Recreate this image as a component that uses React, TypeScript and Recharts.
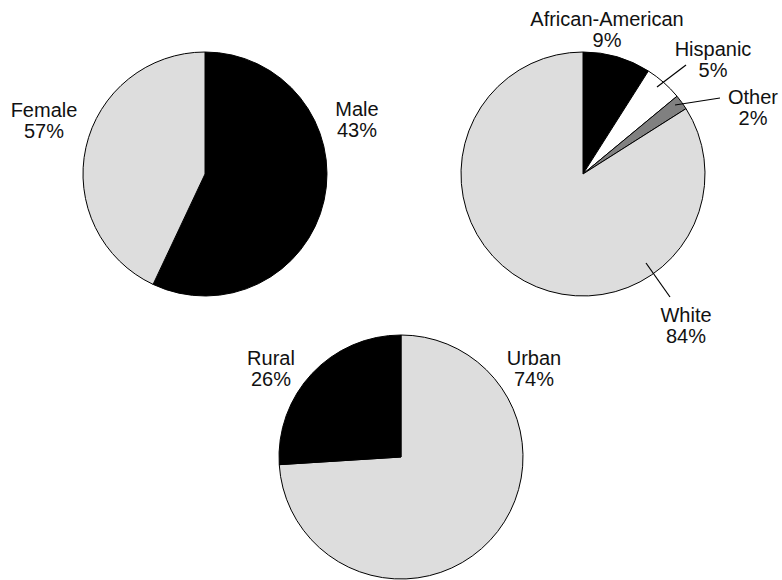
import * as React from "react";
import { PieChart, Pie, Cell } from "recharts";

// Sex split
const sexNames = ["Female", "Male"];
const sexValues = [57, 43];

// Race / ethnicity split
const raceNames = ["African-American", "Hispanic", "Other", "White"];
const raceValues = [9, 5, 2, 84];

// Residence split
const areaNames = ["Urban", "Rural"];
const areaValues = [74, 26];

const LIGHT = "#dddddd";
const FONT = "'Liberation Sans', Arial, Helvetica, sans-serif";
const RADIUS = 122;

type LabelSpot = { dx: number; dy: number; line?: [number, number, number, number] };

// label placement relative to each pie's centre (text centre x, first baseline y)
const sexSpots: LabelSpot[] = [
  { dx: -161, dy: -57 },
  { dx: 152, dy: -58 },
];
const raceSpots: LabelSpot[] = [
  { dx: 24, dy: -148 },
  { dx: 130, dy: -118, line: [74, -87, 103, -109] },
  { dx: 170, dy: -70, line: [92, -69, 137, -76] },
  { dx: 103, dy: 148, line: [63, 89, 87, 123] },
];
const areaSpots: LabelSpot[] = [
  { dx: 133, dy: -92 },
  { dx: -130, dy: -92 },
];

const toRows = (names: string[], values: number[]) =>
  names.map((name, i) => ({ name, value: values[i] }));

function makeLabel(cx: number, cy: number, names: string[], values: number[], spots: LabelSpot[]) {
  return (props: any) => {
    const i = props.index;
    const s = spots[i];
    if (!s) return null;
    const x = cx + s.dx;
    const y = cy + s.dy;
    return (
      <g key={`lbl-${names[i]}`}>
        {s.line && (
          <line
            x1={cx + s.line[0]}
            y1={cy + s.line[1]}
            x2={cx + s.line[2]}
            y2={cy + s.line[3]}
            stroke="#000"
            strokeWidth={1.2}
          />
        )}
        <text x={x} y={y} textAnchor="middle" fontFamily={FONT} fontSize={20} fill="#111">
          {names[i]}
        </text>
        <text x={x} y={y + 21} textAnchor="middle" fontFamily={FONT} fontSize={20} fill="#111">
          {`${values[i]}%`}
        </text>
      </g>
    );
  };
}

function DemoPie(props: {
  cx: number;
  cy: number;
  names: string[];
  values: number[];
  colors: string[];
  spots: LabelSpot[];
}) {
  const { cx, cy, names, values, colors, spots } = props;
  return (
    <Pie
      data={toRows(names, values)}
      dataKey="value"
      nameKey="name"
      cx={cx}
      cy={cy}
      outerRadius={RADIUS}
      startAngle={90}
      endAngle={-270}
      stroke="#000"
      strokeWidth={1}
      isAnimationActive={false}
      labelLine={false}
      label={makeLabel(cx, cy, names, values, spots)}
    >
      {names.map((n, i) => (
        <Cell key={n} fill={colors[i]} />
      ))}
    </Pie>
  );
}

export default function App() {
  return (
    <div style={{ position: "absolute", left: 0, top: 0, background: "#fff" }}>
      <PieChart width={782} height={580} margin={{ top: 0, right: 0, bottom: 0, left: 0 }}>
        {DemoPie({ cx: 205, cy: 174, names: sexNames, values: sexValues, colors: ["#000", LIGHT], spots: sexSpots })}
        {DemoPie({
          cx: 583,
          cy: 174,
          names: raceNames,
          values: raceValues,
          colors: ["#000", "#fff", "#808080", LIGHT],
          spots: raceSpots,
        })}
        {DemoPie({ cx: 401, cy: 457, names: areaNames, values: areaValues, colors: [LIGHT, "#000"], spots: areaSpots })}
      </PieChart>
    </div>
  );
}
